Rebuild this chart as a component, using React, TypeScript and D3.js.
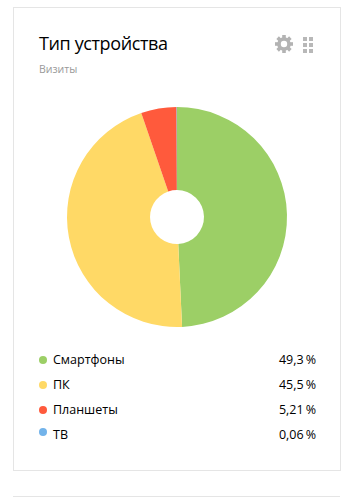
import React from "react";
import * as d3 from "d3";

const title = "Тип устройства";
const subtitle = "Визиты";
const categories = ["Смартфоны", "ПК", "Планшеты", "ТВ"];
const values = [49.3, 45.5, 5.21, 0.06];
const labels = ["49,3\u2009%", "45,5\u2009%", "5,21\u2009%", "0,06\u2009%"];
const colors = ["#9ccf66", "#ffd966", "#ff5a3c", "#72b3ea"];

const W = 354, H = 497;
const cx = 177, cy = 217, R = 110, r = 27;
const FONT = "'Open Sans', sans-serif";

function Gear({ x, y }: { x: number; y: number }) {
  const teeth = d3.range(8).map((i) => (i * 360) / 8);
  return (
    <g transform={`translate(${x},${y})`} fill="#b3b3b3">
      {teeth.map((a) => (
        <rect key={a} x={-1.8} y={-9} width={3.6} height={4} transform={`rotate(${a})`} />
      ))}
      <circle r={5} fill="none" stroke="#b3b3b3" strokeWidth={3.6} />
    </g>
  );
}

function Grid({ x, y }: { x: number; y: number }) {
  const cols = [0, 1];
  const rows = [0, 1, 2];
  return (
    <g transform={`translate(${x},${y})`} fill="#b8b8b8">
      {cols.flatMap((c) =>
        rows.map((ro) => <rect key={`${c}${ro}`} x={c * 6} y={ro * 6} width={4} height={4} />)
      )}
    </g>
  );
}

export default function App() {
  const pie = d3.pie<number>().sort(null).value((d) => d);
  const arc = d3.arc<d3.PieArcDatum<number>>().innerRadius(r).outerRadius(R);
  const arcs = pie(values);
  const legendY = d3.scaleLinear().domain([0, 3]).range([360, 435]);
  return (
    <svg width={W} height={H} style={{ position: "absolute", left: 0, top: 0, display: "block" }}>
      <rect width={W} height={H} fill="#fff" />
      <rect x={13.5} y={7.5} width={327} height={463} fill="#fff" stroke="#e5e5e5" />
      <line x1={13} x2={340} y1={496.5} y2={496.5} stroke="#e5e5e5" />
      <text x={39} y={50} fontFamily={FONT} fontSize={18} fill="#000" textLength={129}>{title}</text>
      <text x={39} y={73} fontFamily={FONT} fontSize={10.5} fill="#999">{subtitle}</text>
      <Gear x={284} y={44} />
      <Grid x={303} y={37} />
      <g transform={`translate(${cx},${cy})`}>
        {arcs.map((a, i) => (
          <path key={categories[i]} d={arc(a) ?? ""} fill={colors[i]} />
        ))}
      </g>
      {categories.map((c, i) => (
        <g key={c}>
          <circle cx={43} cy={legendY(i) - (i === 3 ? 3 : 0)} r={4} fill={colors[i]} />
          <text x={53} y={legendY(i) + 4} fontFamily={FONT} fontSize={12.5} fill="#000">{c}</text>
          <text x={316} y={legendY(i) + 4} textAnchor="end" fontFamily={FONT} fontSize={12.5} fill="#000">{labels[i]}</text>
        </g>
      ))}
    </svg>
  );
}
